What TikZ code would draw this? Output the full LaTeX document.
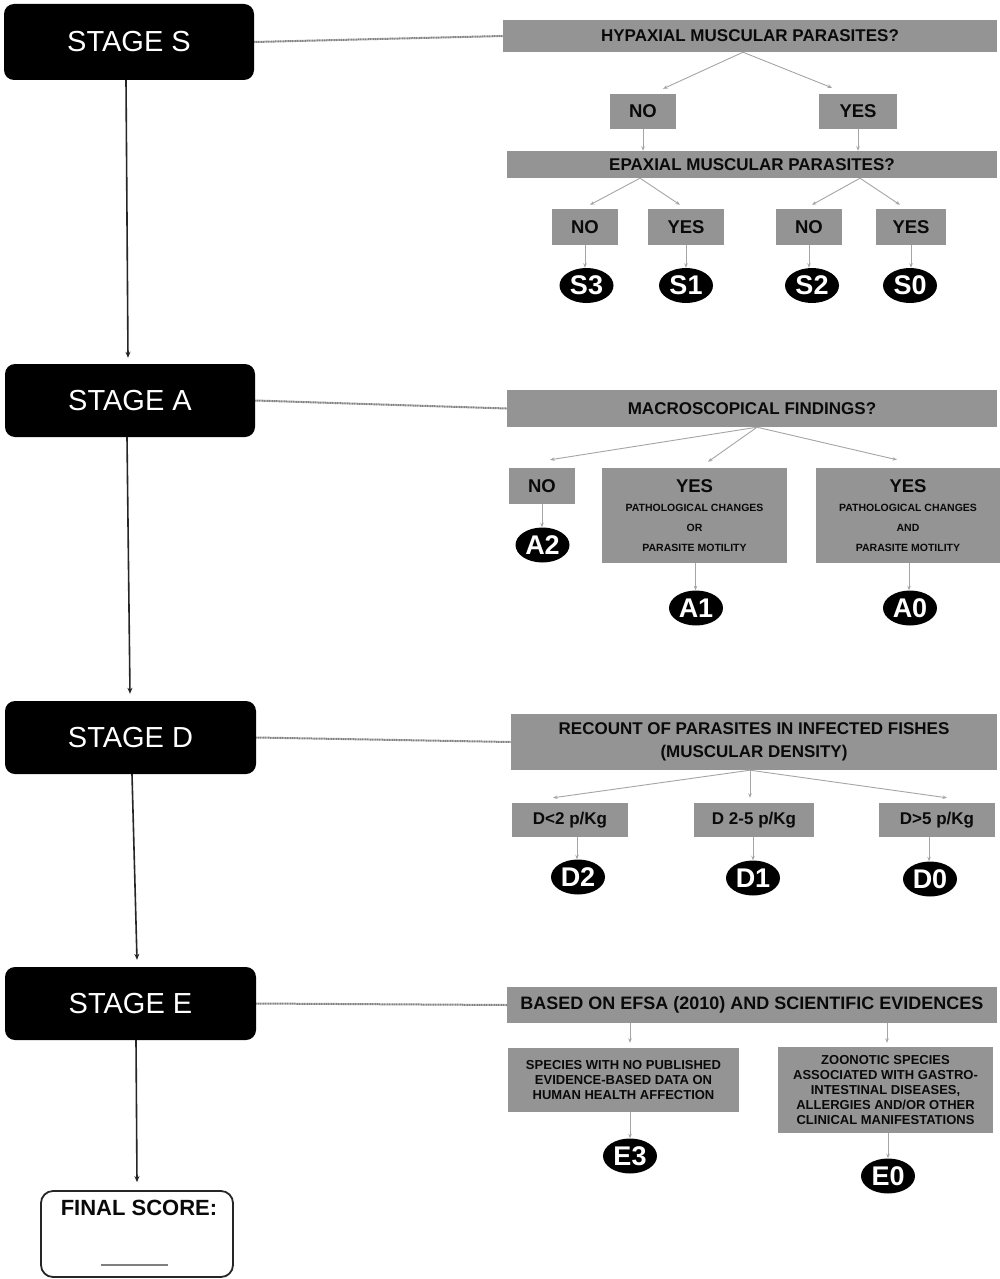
\documentclass[tikz,border=0pt]{standalone}
\usepackage{fontspec}
\setmainfont{Liberation Sans}
\usetikzlibrary{arrows.meta,shapes.geometric}
\definecolor{boxgray}{RGB}{148,148,148}
\definecolor{arrgray}{RGB}{165,165,165}
\definecolor{linkgray}{RGB}{130,130,130}
\definecolor{txt}{RGB}{10,10,10}
\tikzset{
  stagebox/.style={rectangle, rounded corners=10pt, fill=black, text=white, inner sep=0pt,
    font=\fontsize{29}{30}\selectfont},
  gbox/.style={rectangle, fill=boxgray, inner sep=0pt, align=center, text=txt,
    font=\bfseries\fontsize{17}{19}\selectfont},
  ans/.style={gbox, font=\bfseries\fontsize{18.5}{20}\selectfont},
  score/.style={ellipse, fill=black, text=white, inner sep=0pt, minimum width=54pt,
    minimum height=35pt, font=\bfseries\fontsize{27}{28}\selectfont},
  garrow/.style={draw=arrgray, line width=0.9pt, -{Stealth[length=4.5pt,width=3.5pt]}},
  barrow/.style={draw=black!85, line width=1.6pt, -{Stealth[length=6pt,width=5pt]}},
  link/.style={draw=linkgray, line width=2pt, dash pattern=on 1.2pt off 0.5pt},
  finalbox/.style={rectangle, rounded corners=12pt, draw=black!85, line width=1.8pt, fill=white, inner sep=0pt},
  small/.style={font=\bfseries\fontsize{13}{15}\selectfont},
  tiny/.style={font=\bfseries\fontsize{10.5}{20}\selectfont}
}
\begin{document}
\begin{tikzpicture}[x=1pt,y=-1pt]
\useasboundingbox[fill=white] (0,0) rectangle (1000,1279);

% ---------------- Stage boxes ----------------
\node[stagebox, minimum width=250pt, minimum height=76pt] (stS) at (129,42) {STAGE S};
\node[stagebox, minimum width=250pt, minimum height=73pt] (stA) at (130,400.5) {STAGE A};
\node[stagebox, minimum width=251pt, minimum height=73pt] (stD) at (130.5,737.5) {STAGE D};
\node[stagebox, minimum width=251pt, minimum height=73pt] (stE) at (130.5,1003.5) {STAGE E};
\node[finalbox, minimum width=192pt, minimum height=86pt] (final) at (137,1234) {};
\node[font=\bfseries\fontsize{22}{23}\selectfont, text=txt, inner sep=0pt] (finaltxt) at (139,1208) {FINAL SCORE:};
\coordinate (ulA) at (101,1265);
\coordinate (ulB) at (168,1265);
\draw[draw=gray, line width=1.5pt] (ulA) -- (ulB);

% vertical flow
\draw[barrow] ([xshift=-3pt]stS.south) -- ([xshift=-2pt,yshift=6pt]stA.north);
\draw[barrow] ([xshift=-3pt]stA.south) -- ([xshift=-0.5pt,yshift=7pt]stD.north);
\draw[barrow] ([xshift=1.5pt]stD.south) -- ([xshift=6.5pt,yshift=7pt]stE.north);
\draw[barrow] ([xshift=5.5pt]stE.south) -- ([yshift=8pt]final.north);

% ---------------- Stage S ----------------
\node[gbox, minimum width=494pt, minimum height=32pt] (hyp) at (750,36) {HYPAXIAL MUSCULAR PARASITES?};
\node[ans, minimum width=66pt, minimum height=35pt] (sno) at (643,111.5) {NO};
\node[ans, minimum width=78pt, minimum height=35pt] (syes) at (858,111.5) {YES};
\node[gbox, minimum width=490pt, minimum height=27pt] (epa) at (752,164.5) {EPAXIAL MUSCULAR PARASITES?};
\node[ans, minimum width=66pt, minimum height=36pt] (eno1) at (585,227) {NO};
\node[ans, minimum width=76pt, minimum height=36pt] (eyes1) at (686,227) {YES};
\node[ans, minimum width=66pt, minimum height=36pt] (eno2) at (809,227) {NO};
\node[ans, minimum width=70pt, minimum height=36pt] (eyes2) at (911,227) {YES};
\node[score] (S3) at (586.5,285.5) {S3};
\node[score] (S1) at (686,285.5) {S1};
\node[score] (S2) at (812,285.5) {S2};
\node[score] (S0) at (910,285.5) {S0};

\draw[link] (stS.east) -- (hyp.west);
\draw[garrow] ([xshift=-7pt]hyp.south) -- ([xshift=20pt,yshift=5pt]sno.north);
\draw[garrow] ([xshift=-7pt]hyp.south) -- ([xshift=-26pt,yshift=6pt]syes.north);
\draw[garrow] (sno.south) -- (sno.south |- epa.north);
\draw[garrow] (syes.south) -- (syes.south |- epa.north);
\draw[garrow] ([xshift=-112pt]epa.south) -- ([xshift=5pt,yshift=4pt]eno1.north);
\draw[garrow] ([xshift=-112pt]epa.south) -- ([xshift=-6pt,yshift=4pt]eyes1.north);
\draw[garrow] ([xshift=108pt]epa.south) -- ([xshift=3pt,yshift=4pt]eno2.north);
\draw[garrow] ([xshift=108pt]epa.south) -- ([xshift=-11pt,yshift=4pt]eyes2.north);
\draw[garrow] (eno1.south) -- (eno1.south |- S3.north);
\draw[garrow] (eyes1.south) -- (eyes1.south |- S1.north);
\draw[garrow] (eno2.south) -- (eno2.south |- S2.north);
\draw[garrow] (eyes2.south) -- (eyes2.south |- S0.north);

% ---------------- Stage A ----------------
\node[gbox, minimum width=490pt, minimum height=37pt] (macro) at (752,408.5) {MACROSCOPICAL FINDINGS?};
\node[ans, minimum width=66pt, minimum height=36pt] (ano) at (542,486) {NO};
\node[gbox, tiny, minimum width=185pt, minimum height=95pt] (ayes1) at (694.5,515.5)
  {{\fontsize{18.5}{19}\selectfont YES}\\[-1pt]PATHOLOGICAL CHANGES\\OR\\PARASITE MOTILITY};
\node[gbox, tiny, minimum width=184pt, minimum height=95pt] (ayes2) at (908,515.5)
  {{\fontsize{18.5}{19}\selectfont YES}\\[-1pt]PATHOLOGICAL CHANGES\\AND\\PARASITE MOTILITY};
\node[score] (A2) at (542.5,545) {A2};
\node[score] (A1) at (696,608) {A1};
\node[score] (A0) at (910,608) {A0};

\draw[link] (stA.east) -- (macro.west);
\draw[garrow] ([xshift=5pt]macro.south) -- ([xshift=8pt,yshift=8pt]ano.north);
\draw[garrow] ([xshift=5pt]macro.south) -- ([xshift=13.5pt,yshift=6pt]ayes1.north);
\draw[garrow] ([xshift=5pt]macro.south) -- ([xshift=-11pt,yshift=8pt]ayes2.north);
\draw[garrow] (ano.south) -- (ano.south |- A2.north);
\draw[garrow] ([xshift=1pt]ayes1.south) -- ([xshift=1pt]ayes1.south |- A1.north);
\draw[garrow] ([xshift=1pt]ayes2.south) -- ([xshift=1pt]ayes2.south |- A0.north);

% ---------------- Stage D ----------------
\node[gbox, minimum width=486pt, minimum height=56pt, font=\bfseries\fontsize{17}{23}\selectfont] (recount) at (754,742)
  {RECOUNT OF PARASITES IN INFECTED FISHES\\(MUSCULAR DENSITY)};
\node[gbox, minimum width=116pt, minimum height=34pt] (d2box) at (570,820) {D<2 p/Kg};
\node[gbox, minimum width=120pt, minimum height=34pt] (d1box) at (754,820) {D 2-5 p/Kg};
\node[gbox, minimum width=116pt, minimum height=34pt] (d0box) at (937,820) {D>5 p/Kg};
\node[score] (D2) at (578,877) {D2};
\node[score] (D1) at (753,878) {D1};
\node[score] (D0) at (930,879) {D0};

\draw[link] (stD.east) -- (recount.west);
\draw[garrow] ([xshift=-4pt]recount.south) -- ([xshift=-17pt,yshift=5pt]d2box.north);
\draw[garrow] ([xshift=-4pt]recount.south) -- ([xshift=-4pt,yshift=5pt]d1box.north);
\draw[garrow] ([xshift=-4pt]recount.south) -- ([xshift=10pt,yshift=5pt]d0box.north);
\draw[garrow] ([xshift=7pt]d2box.south) -- ([xshift=7pt]d2box.south |- D2.north);
\draw[garrow] ([xshift=-1pt]d1box.south) -- ([xshift=-1pt]d1box.south |- D1.north);
\draw[garrow] ([xshift=-8pt]d0box.south) -- ([xshift=-8pt]d0box.south |- D0.north);

% ---------------- Stage E ----------------
\node[gbox, minimum width=490pt, minimum height=36pt, font=\bfseries\fontsize{18}{20}\selectfont] (based) at (752,1005)
  {BASED ON EFSA (2010) AND SCIENTIFIC EVIDENCES};
\node[gbox, small, minimum width=231pt, minimum height=64pt] (e3box) at (623.5,1080)
  {SPECIES WITH NO PUBLISHED\\EVIDENCE-BASED DATA ON\\HUMAN HEALTH AFFECTION};
\node[gbox, small, minimum width=215pt, minimum height=86pt] (e0box) at (885.5,1090)
  {ZOONOTIC SPECIES\\ASSOCIATED WITH GASTRO-\\INTESTINAL DISEASES,\\ALLERGIES AND/OR OTHER\\CLINICAL MANIFESTATIONS};
\node[score] (E3) at (630,1156) {E3};
\node[score] (E0) at (888,1176) {E0};

\draw[link] (stE.east) -- (based.west);
\draw[garrow] ([xshift=-122pt]based.south) -- ([xshift=6.5pt,yshift=5pt]e3box.north);
\draw[garrow] ([xshift=135pt]based.south) -- ([xshift=1.5pt,yshift=4pt]e0box.north);
\draw[garrow] ([xshift=6.5pt]e3box.south) -- (E3.north);
\draw[garrow] ([xshift=2.5pt]e0box.south) -- (E0.north);
\end{tikzpicture}
\end{document}
